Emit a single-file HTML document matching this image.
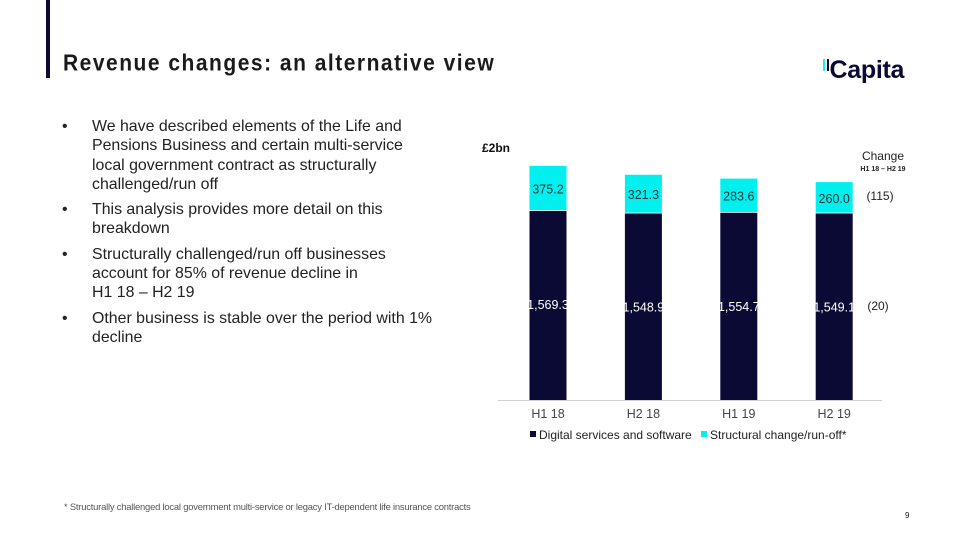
<!DOCTYPE html>
<html><head><meta charset="utf-8"><style>
body{margin:0;width:960px;height:540px;background:#fff;position:relative;overflow:hidden;font-family:"Liberation Sans",sans-serif;}
.abs{position:absolute;}
.t{font-size:15.9px;color:#222;line-height:19.3px;white-space:nowrap;}
</style></head><body>
<div class="abs" style="left:46px;top:0;width:4px;height:78px;background:#0a0a35"></div>
<div class="abs" style="left:63px;top:51px;font-size:21px;font-weight:bold;color:#1a1a1a;letter-spacing:1.5px;transform:scaleY(1.08);transform-origin:left top">Revenue changes: an alternative view</div>
<div class="abs" style="left:823px;top:56px;font-size:25px;font-weight:bold;color:#0a0a35;letter-spacing:-0.3px"><span style="display:inline-block;width:2px;height:12px;background:#2ee;vertical-align:top;margin-right:2px;margin-top:3px"></span><span style="display:inline-block;width:1.5px;height:12px;background:#0a0a35;vertical-align:top;margin-right:1px;margin-top:3px"></span>Capita</div>
<div class="abs t" style="left:62px;top:117px">
<div style="position:relative;padding-left:30px;margin-bottom:6px"><span style="position:absolute;left:0">•</span>We have described elements of the Life and<br>Pensions Business and certain multi-service<br>local government contract as structurally<br>challenged/run off</div>
<div style="position:relative;padding-left:30px;margin-bottom:6px"><span style="position:absolute;left:0">•</span>This analysis provides more detail on this<br>breakdown</div>
<div style="position:relative;padding-left:30px;margin-bottom:6px"><span style="position:absolute;left:0">•</span>Structurally challenged/run off businesses<br>account for 85% of revenue decline in<br>H1 18 – H2 19</div>
<div style="position:relative;padding-left:30px"><span style="position:absolute;left:0">•</span>Other business is stable over the period with 1%<br>decline</div>
</div>
<svg class="abs" style="left:0;top:0" width="960" height="540" id="chart"></svg>
<div class="abs" style="left:64px;top:501px;font-size:9.4px;color:#555;letter-spacing:-0.2px">* Structurally challenged local government multi-service or legacy IT-dependent life insurance contracts</div>
<div class="abs" style="left:905px;top:511px;font-size:8px;color:#111">9</div>
<script>
const categories=["H1 18","H2 18","H1 19","H2 19"];
const digital=[1569.3,1548.9,1554.7,1549.1];
const structural=[375.2,321.3,283.6,260.0];
const changeLabels=["(115)","(20)"];
const svg=document.getElementById('chart');
const NS='http://www.w3.org/2000/svg';
const baseY=400, scale=189/1569.3, x0=548, step=95.4, bw=37;
const y=v=>baseY-v*scale;
const xc=i=>x0+i*step;
function mk(tag,attrs,txt){const e=document.createElementNS(NS,tag);for(const k in attrs)e.setAttribute(k,attrs[k]);if(txt!==undefined)e.textContent=txt;svg.appendChild(e);return e;}
let e;
e=mk('line',{x1:498,x2:882,y1:baseY+0.5,y2:baseY+0.5,stroke:'#d0d0d0','stroke-width':1});


e=mk('text',{x:482,y:152,'font-size':12,'font-weight':'bold',fill:'#111','font-family':'Liberation Sans'},'£2bn');


e=mk('text',{x:883,y:160,'font-size':12,fill:'#222','text-anchor':'middle','font-family':'Liberation Sans'},'Change');


e=mk('text',{x:883,y:171,'font-size':7,'font-weight':'bold',fill:'#222','text-anchor':'middle','font-family':'Liberation Sans'},'H1 18 – H2 19');


categories.forEach((c,i)=>{
  const d=digital[i], s=structural[i];
  let r=mk('rect',{x:xc(i)-bw/2,y:y(d),width:bw,height:d*scale,fill:'#0a0a35'});
  
  
  r=mk('rect',{x:xc(i)-bw/2,y:y(d+s),width:bw,height:s*scale-0.8,fill:'#00f0f0'});
  
  
  let t=mk('text',{x:xc(i),y:y(d+s/2)+5,'font-size':12.5,fill:'#333','text-anchor':'middle','font-family':'Liberation Sans'},s.toFixed(1));
  
  
  t=mk('text',{x:xc(i),y:y(d)+98,'font-size':12.5,fill:'#fff','text-anchor':'middle','font-family':'Liberation Sans'},d.toLocaleString('en-GB',{minimumFractionDigits:1}));
  
  
  t=mk('text',{x:xc(i),y:418,'font-size':12.5,fill:'#444','text-anchor':'middle','font-family':'Liberation Sans'},c);
  
  
});
e=mk('text',{x:880,y:200,'font-size':12,fill:'#222','text-anchor':'middle','font-family':'Liberation Sans'},changeLabels[0]);


e=mk('text',{x:878,y:310,'font-size':12,fill:'#222','text-anchor':'middle','font-family':'Liberation Sans'},changeLabels[1]);


e=mk('rect',{x:530,y:431,width:6,height:6,fill:'#0a0a35'});


e=mk('text',{x:539,y:439,'font-size':12,fill:'#222','font-family':'Liberation Sans'},'Digital services and software');


e=mk('rect',{x:701,y:431,width:6,height:6,fill:'#00f0f0'});


e=mk('text',{x:710,y:439,'font-size':12,fill:'#222','font-family':'Liberation Sans'},'Structural change/run-off*');


</script>
</body></html>
